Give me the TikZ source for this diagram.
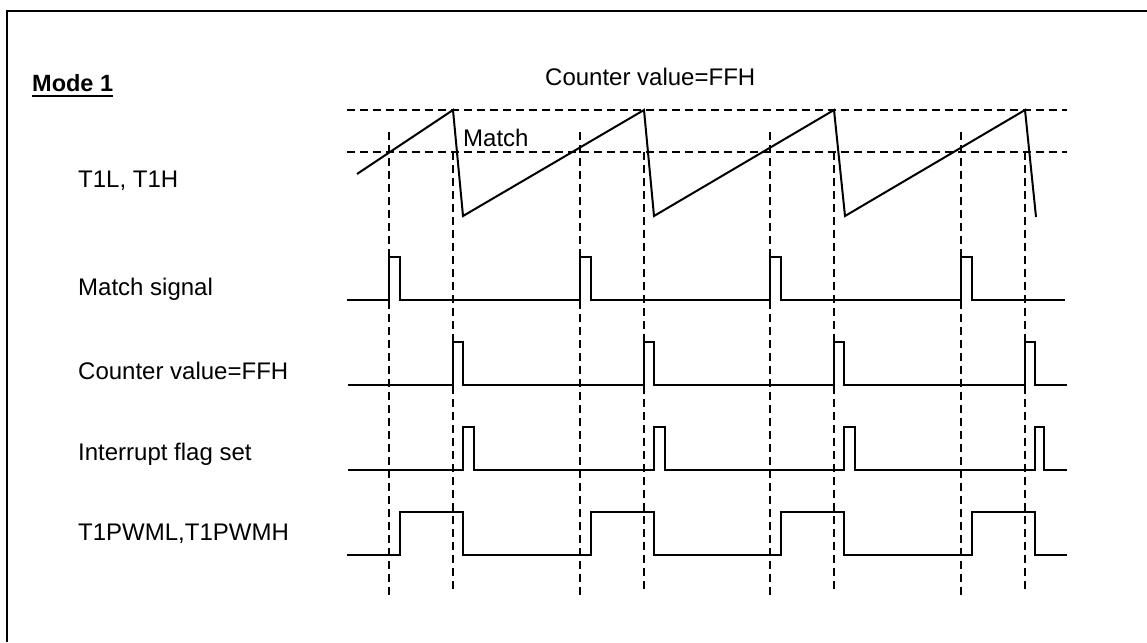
\documentclass[tikz,border=0pt]{standalone}
\usepackage{fontspec}
\setmainfont{Liberation Sans}
\usetikzlibrary{positioning}

\begin{document}
\begin{tikzpicture}[
    x=1pt, y=-1pt,
    wave/.style={line width=2pt, line join=miter},
    guide/.style={line width=1.8pt, dash pattern=on 8pt off 5pt},
    sig/.style={anchor=base west, inner sep=0pt,
                font=\fontsize{24}{28}\selectfont}
  ]
  \useasboundingbox (0,0) rectangle (1147,642);

  % Frame (open to the right and bottom)
  \draw[line width=2pt] (7,642) -- (7,11) -- (1147,11);

  % Headings
  \node[sig, font=\fontsize{23.5}{28}\selectfont\bfseries] (mode) at (32,91) {Mode 1};
  \draw[line width=2pt] ([yshift=-5pt]mode.base west) -- ([yshift=-5pt]mode.base east);
  \node[sig] (ffhtop) at (545,85) {Counter value=FFH};
  \node[sig] (match) at (463,146) {Match};

  % Signal names
  \node[sig] (tcnt) at (78,187) {T1L, T1H};
  \node[sig] (msig) at (78,295) {Match signal};
  \node[sig] (ffh) at (78,379) {Counter value=FFH};
  \node[sig] (intf) at (78,460) {Interrupt flag set};
  \node[sig] (pwm) at (78,540) {T1PWML,T1PWMH};

  % Levels: FFH and match
  \draw[guide] (347,110) -- (1067,110);
  \draw[guide] (347,152) -- (1067,152);

  % Time marks: match points and overflow points
  \foreach \m in {389,580,770,961}
    \draw[guide] (\m,132) -- (\m,597);
  \foreach \p in {453,644,834,1025}
    \draw[guide] (\p,152) -- (\p,593);

  % Counter ramp
  \draw[wave] (357,174) -- (453,110) -- (463,216) -- (644,110) -- (654,216)
    -- (834,110) -- (845,216) -- (1025,110) -- (1036,217);

  % Match signal
  \draw[wave] (347,300) -- (389,300) -- (389,257) -- (400,257) -- (400,300)
    -- (580,300) -- (580,257) -- (591,257) -- (591,300)
    -- (770,300) -- (770,257) -- (781,257) -- (781,300)
    -- (961,300) -- (961,257) -- (972,257) -- (972,300) -- (1065,300);

  % Counter value=FFH
  \draw[wave] (348,385) -- (453,385) -- (453,342) -- (463,342) -- (463,385)
    -- (644,385) -- (644,342) -- (654,342) -- (654,385)
    -- (834,385) -- (834,342) -- (844,342) -- (844,385)
    -- (1025,385) -- (1025,342) -- (1035,342) -- (1035,385) -- (1067,385);

  % Interrupt flag
  \draw[wave] (348,470) -- (463,470) -- (463,427) -- (474,427) -- (474,470)
    -- (654,470) -- (654,427) -- (665,427) -- (665,470)
    -- (844,470) -- (844,427) -- (855,427) -- (855,470)
    -- (1035,470) -- (1035,427) -- (1044,427) -- (1044,470) -- (1067,470);

  % PWM output
  \draw[wave] (347,555) -- (400,555) -- (400,512) -- (463,512) -- (463,555)
    -- (591,555) -- (591,512) -- (654,512) -- (654,555)
    -- (781,555) -- (781,512) -- (844,512) -- (844,555)
    -- (972,555) -- (972,512) -- (1035,512) -- (1035,555) -- (1067,555);

\end{tikzpicture}
\end{document}
